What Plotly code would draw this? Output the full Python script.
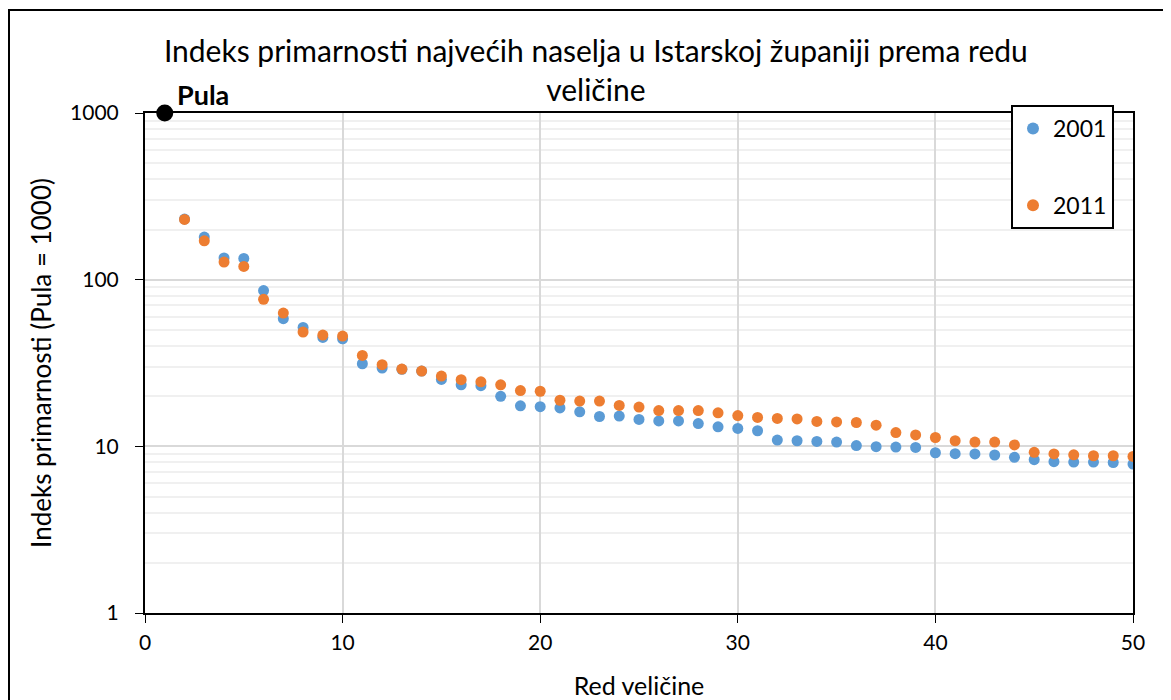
import plotly.graph_objects as go

rank = list(range(2, 51))
idx_2001 = [231, 180, 135, 134, 86, 58.3, 51.7, 45, 44.2, 31.3, 29.5, 29, 28.3, 25.2, 23.4, 23.1, 19.95, 17.5, 17.3,
            17.0, 16.1, 15.1, 15.2, 14.5, 14.2, 14.2, 13.7, 13.1, 12.8, 12.4, 10.9, 10.8, 10.7, 10.6, 10.1, 9.95,
            9.9, 9.85, 9.15, 9.03, 9.0, 8.87, 8.59, 8.31, 8.09, 8.05, 8.05, 8.0, 7.83]
idx_2011 = [230, 171, 127.6, 120, 76.2, 63, 48.5, 46.5, 45.9, 35.1, 30.9, 29.1, 28.3, 26.4, 25.1, 24.4, 23.4, 21.6, 21.4,
            18.9, 18.7, 18.7, 17.6, 17.2, 16.4, 16.4, 16.4, 15.9, 15.3, 14.9, 14.7, 14.6, 14.1, 14.0, 13.9, 13.4,
            12.1, 11.7, 11.3, 10.8, 10.6, 10.6, 10.2, 9.2, 9.0, 8.9, 8.78, 8.78, 8.7]
pula_rank = [1]
pula_idx = [1000]
pula_label = "Pula"
series_names = ["2001", "2011"]

FONT = "Lato"
W, H = 1171, 700
fig = go.Figure()
fig.add_trace(go.Scatter(x=rank, y=idx_2001, mode="markers", name=series_names[0], legendgroup="a",
                         marker=dict(color="#5B9BD5", size=11)))
fig.add_trace(go.Scatter(x=rank, y=idx_2011, mode="markers", name=series_names[1], legendgroup="b",
                         marker=dict(color="#ED7D31", size=11)))
fig.add_trace(go.Scatter(x=pula_rank, y=pula_idx, mode="markers", showlegend=False, cliponaxis=False,
                         marker=dict(color="black", size=17)))
fig.add_annotation(x=pula_rank[0], y=3, xref="x", yref="y", text="<b>" + pula_label + "</b>",
                   showarrow=False, xanchor="left", yanchor="middle", xshift=10, yshift=19,
                   font=dict(family=FONT, size=27, color="black"))

fig.update_layout(
    width=W, height=H,
    margin=dict(l=137, r=46, t=105, b=95),
    paper_bgcolor="white", plot_bgcolor="white",
    font=dict(family=FONT, size=21, color="black"),
    title=dict(text="Indeks primarnosti najvećih naselja u Istarskoj županiji prema redu<br>veličine",
               x=0.502, xanchor="center", y=0.923, yanchor="middle",
               font=dict(family=FONT, size=30, color="black")),
    legend=dict(x=(1011 - 145) / 988, y=(613 - 105) / 500, xanchor="left", yanchor="top",
                bgcolor="white", bordercolor="black", borderwidth=2,
                font=dict(size=23), tracegroupgap=44, itemsizing="constant"),
    showlegend=True,
)
fig.update_xaxes(range=[0, 50], dtick=10, showgrid=True, gridcolor="#d9d9d9", gridwidth=2,
                 showline=True, linecolor="black", linewidth=2, mirror=True,
                 ticks="outside", ticklen=8, tickcolor="black", zeroline=False,
                 ticklabelstandoff=2, automargin=False,
                 title=dict(text="Red veličine", font=dict(size=25), standoff=24))
fig.update_yaxes(type="log", range=[0, 3], dtick=1, showgrid=True, gridcolor="#d9d9d9", gridwidth=2,
                 minor=dict(showgrid=True, gridcolor="#f0f0f0", gridwidth=2, dtick="D1"),
                 showline=True, linecolor="black", linewidth=2, mirror=True,
                 ticks="outside", ticklen=8, tickcolor="black",
                 ticklabelstandoff=12, automargin=False,
                 title=dict(text="Indeks primarnosti (Pula = 1000)", font=dict(size=26), standoff=11))

fig.add_shape(type="rect", xref="paper", yref="paper",
              x0=(9 - 145) / 988, x1=(1200 - 145) / 988, y0=(613 - 730) / 500, y1=(613 - 10) / 500,
              line=dict(color="black", width=2), fillcolor="rgba(0,0,0,0)", layer="below")

fig.write_html("out.html")
